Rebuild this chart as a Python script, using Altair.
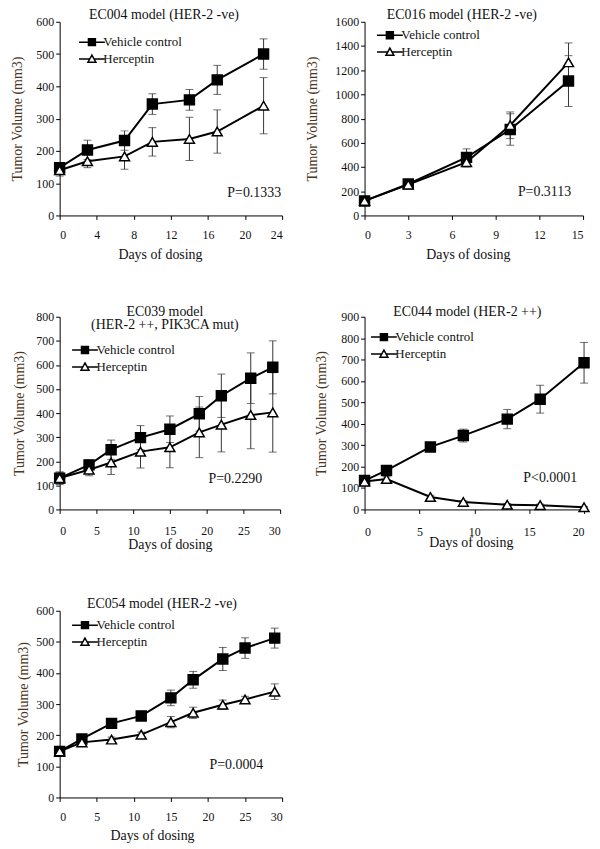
import altair as alt
import pandas as pd

FONT = "Liberation Serif"
SERIES = ["Vehicle control", "Herceptin"]

# ---------------- data ----------------
ec004_days = [0, 3, 7, 10, 14, 17, 22]
ec004_vehicle = [148, 203, 232, 345, 358, 420, 500]
ec004_vehicle_err = [12, 30, 30, 32, 32, 45, 47]
ec004_herceptin = [140, 168, 183, 228, 237, 260, 340]
ec004_herceptin_err = [18, 20, 40, 44, 67, 67, 87]

ec016_days = [0, 3, 7, 10, 14]
ec016_vehicle = [120, 260, 480, 710, 1110]
ec016_vehicle_err = [20, 20, 70, 130, 210]
ec016_herceptin = [120, 255, 440, 745, 1265]
ec016_herceptin_err = [20, 20, 40, 110, 160]

ec039_days = [0, 4, 7, 11, 15, 19, 22, 26, 29]
ec039_vehicle = [130, 185, 248, 298, 333, 397, 472, 545, 590]
ec039_vehicle_err = [25, 20, 40, 50, 55, 72, 90, 105, 110]
ec039_herceptin = [130, 165, 195, 240, 258, 320, 352, 392, 403]
ec039_herceptin_err = [25, 25, 50, 68, 85, 105, 113, 140, 165]

ec044_days = [0, 2, 6, 9, 13, 16, 20]
ec044_vehicle = [135, 182, 292, 345, 422, 515, 685]
ec044_vehicle_err = [20, 15, 15, 30, 45, 65, 95]
ec044_herceptin = [130, 142, 58, 35, 22, 20, 10]
ec044_herceptin_err = [15, 10, 8, 6, 5, 5, 4]

ec054_days = [0, 3, 7, 11, 15, 18, 22, 25, 29]
ec054_vehicle = [148, 188, 238, 262, 320, 378, 445, 480, 512]
ec054_vehicle_err = [8, 8, 10, 15, 25, 27, 37, 33, 32]
ec054_herceptin = [148, 177, 186, 202, 242, 272, 298, 315, 340]
ec054_herceptin_err = [8, 8, 8, 8, 18, 18, 15, 10, 25]

titles = [
    "EC004 model (HER-2 -ve)",
    "EC016 model (HER-2 -ve)",
    ["EC039 model", "(HER-2 ++,  PIK3CA mut)"],
    "EC044 model (HER-2 ++)",
    "EC054 model (HER-2 -ve)",
]
p_values = ["P=0.1333", "P=0.3113", "P=0.2290", "P<0.0001", "P=0.0004"]
x_ticks = [list(range(0, 25, 4)), list(range(0, 16, 3)), list(range(0, 31, 5)),
           list(range(0, 21, 5)), list(range(0, 31, 5))]
y_ticks = [list(range(0, 601, 100)), list(range(0, 1601, 200)), list(range(0, 801, 100)),
           list(range(0, 901, 100)), list(range(0, 601, 100))]

# legend symbols: a line segment with the marker
SQ_PATH = "M-2.6,0H2.6M-0.7,-0.7H0.7V0.7H-0.7Z"
TRI_PATH = "M-2.6,0H-0.45M0.45,0H2.6M0,-0.8L0.8,0.65H-0.8Z"

# layout / style per panel
layout = [
    dict(w=224, h=195, toff=-6, tdx=-7, pval=(223, 172), leg=(26, 14), xlp=10, xty=39, xtx=101, ytx=-42),
    dict(w=220, h=195, toff=-6, tdx=-12, pval=(208, 171), leg=(19, 7), xlp=10, xty=39, xtx=104, ytx=-52),
    dict(w=222, h=194, toff=-21, tdx=-5, pval=(204, 163), leg=(19, 27), xlp=12, xty=35, xtx=111, ytx=-40),
    dict(w=221, h=194, toff=-8, tdx=-7, pval=(214, 162), leg=(13, 14), xlp=13, xty=33, xtx=107, ytx=-43),
    dict(w=224, h=188, toff=-6, tdx=-9, pval=(205, 155), leg=(19, 8), xlp=10, xty=38, xtx=93, ytx=-36),
]

datasets = [
    (ec004_days, ec004_vehicle, ec004_vehicle_err, ec004_herceptin, ec004_herceptin_err),
    (ec016_days, ec016_vehicle, ec016_vehicle_err, ec016_herceptin, ec016_herceptin_err),
    (ec039_days, ec039_vehicle, ec039_vehicle_err, ec039_herceptin, ec039_herceptin_err),
    (ec044_days, ec044_vehicle, ec044_vehicle_err, ec044_herceptin, ec044_herceptin_err),
    (ec054_days, ec054_vehicle, ec054_vehicle_err, ec054_herceptin, ec054_herceptin_err),
]


def make_df(days, veh, veh_err, her, her_err):
    rows = []
    for d, v, e in zip(days, veh, veh_err):
        rows.append(dict(day=d, value=v, lo=v - e, hi=v + e, series=SERIES[0]))
    for d, v, e in zip(days, her, her_err):
        rows.append(dict(day=d, value=v, lo=max(v - e, 0), hi=v + e, series=SERIES[1]))
    return pd.DataFrame(rows)


def panel(i):
    L = layout[i]
    df = make_df(*datasets[i])
    xt, yt = x_ticks[i], y_ticks[i]
    xs = alt.Scale(domain=[xt[0], xt[-1]], nice=False, zero=False)
    ys = alt.Scale(domain=[yt[0], yt[-1]], nice=False)
    xaxis = alt.Axis(values=xt, title="Days of dosing", labelPadding=L["xlp"], format="d",
                     titleX=L["xtx"], titleY=L["xty"], titleBaseline="middle",
                     titleAlign="center")
    yaxis = alt.Axis(values=yt, title="Tumor Volume (mm3)", labelPadding=2, format="d",
                     titleX=L["ytx"], titleBaseline="middle", titleAlign="center",
                     titleColor="#4a3520")
    X = alt.X("day:Q", scale=xs, axis=xaxis)

    base = alt.Chart(df)
    err = base.mark_errorbar(ticks=True, color="#333333", thickness=1, size=8).encode(
        x=X,
        y=alt.Y("lo:Q", scale=ys, axis=yaxis, title="Tumor Volume (mm3)"),
        y2="hi:Q",
        detail="series:N",
    )
    line = base.mark_line(color="black", strokeWidth=2).encode(
        x=X,
        y=alt.Y("value:Q", scale=ys, axis=yaxis, title="Tumor Volume (mm3)"),
        detail="series:N",
    )
    pts = base.mark_point(stroke="black", strokeWidth=1.5, opacity=1, size=100).encode(
        x=X,
        y=alt.Y("value:Q", scale=ys, axis=yaxis, title="Tumor Volume (mm3)"),
        shape=alt.Shape("series:N", scale=alt.Scale(domain=SERIES, range=["square", "triangle-up"]), legend=None),
        fill=alt.Fill("series:N", scale=alt.Scale(domain=SERIES, range=["black", "white"]), legend=None),
    )
    leg = alt.Legend(orient="none", legendX=L["leg"][0], legendY=L["leg"][1], title=None,
                     symbolSize=100, symbolStrokeWidth=1.5, symbolStrokeColor="black",
                     labelFont=FONT, labelFontSize=13, labelColor="#111111",
                     labelOffset=5, rowPadding=2, padding=0)
    legend_layer = alt.Chart(alt.Data(values=[])).mark_point(strokeWidth=1.5, opacity=1).encode(
        shape=alt.Shape("series:N", scale=alt.Scale(domain=SERIES, range=[SQ_PATH, TRI_PATH]), legend=leg),
        fill=alt.Fill("series:N", scale=alt.Scale(domain=SERIES, range=["black", "white"]), legend=leg),
        stroke=alt.Stroke("series:N", scale=alt.Scale(domain=SERIES, range=["black", "black"]), legend=leg),
    )
    ptext = alt.Chart(pd.DataFrame({"t": [p_values[i]]})).mark_text(
        x=L["pval"][0], y=L["pval"][1], align="right", baseline="middle",
        font=FONT, fontSize=14, color="#111111").encode(text="t:N")

    return alt.layer(err, line, pts, legend_layer, ptext).resolve_scale(
        shape="independent", fill="independent", stroke="independent"
    ).properties(
        width=L["w"], height=L["h"],
        title=alt.TitleParams(text=titles[i], font=FONT, fontSize=14, fontWeight="normal",
                              color="#111111", offset=L["toff"], dx=L["tdx"], anchor="middle",
                              lineHeight=13),
    )


p = [panel(i) for i in range(5)]
chart = alt.concat(*p, columns=2, spacing={"row": 102, "column": 83}, bounds="flush").properties(
    padding={"left": 3, "top": -3, "right": 0, "bottom": 0}
).configure_view(stroke=None).configure_axis(
    grid=False, domainColor="black", tickColor="black", tickSize=4, domainWidth=1, tickWidth=1,
    labelFont=FONT, labelFontSize=12, labelColor="#111111",
    titleFont=FONT, titleFontSize=14, titleFontWeight="normal",
    titleColor="#111111",
)

chart.save("out.html", embed_options={"renderer": "svg", "actions": False})
